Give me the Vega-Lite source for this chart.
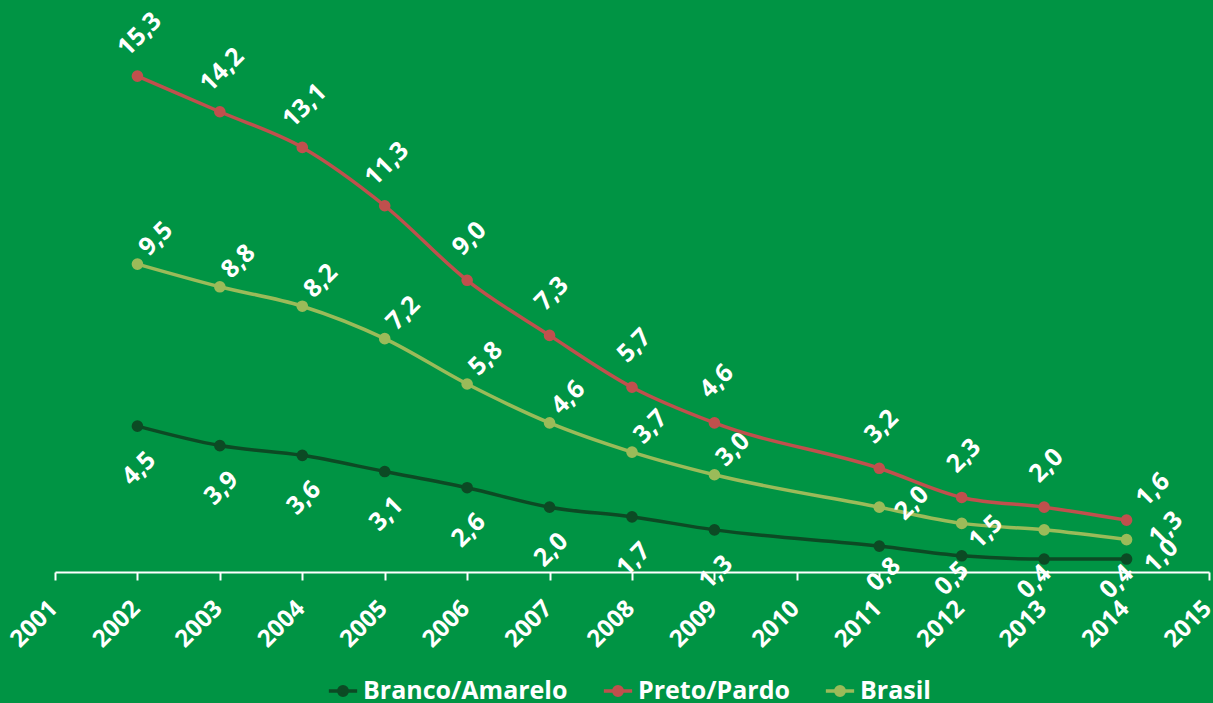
{
  "$schema": "https://vega.github.io/schema/vega-lite/v6.json",
  "width": 1154,
  "height": 551,
  "autosize": {"type": "none"},
  "padding": {"left": 55, "top": 21, "right": 4, "bottom": 131},
  "background": "#009444",
  "config": {
    "view": {"stroke": null},
    "font": "Open Sans",
    "text": {"angle": -45, "align": "center", "baseline": "middle", "fontSize": 25, "fontWeight": "bold", "font": "Open Sans", "color": "white"},
    "locale": {"number": {"decimal": ",", "thousands": ".", "grouping": [3], "currency": ["R$", ""]}}
  },
  "data": {
    "values": [
      {"ano": 2002, "grupo": "Branco/Amarelo", "valor": 4.5},
      {"ano": 2003, "grupo": "Branco/Amarelo", "valor": 3.9},
      {"ano": 2004, "grupo": "Branco/Amarelo", "valor": 3.6},
      {"ano": 2005, "grupo": "Branco/Amarelo", "valor": 3.1},
      {"ano": 2006, "grupo": "Branco/Amarelo", "valor": 2.6},
      {"ano": 2007, "grupo": "Branco/Amarelo", "valor": 2.0},
      {"ano": 2008, "grupo": "Branco/Amarelo", "valor": 1.7},
      {"ano": 2009, "grupo": "Branco/Amarelo", "valor": 1.3},
      {"ano": 2011, "grupo": "Branco/Amarelo", "valor": 0.8},
      {"ano": 2012, "grupo": "Branco/Amarelo", "valor": 0.5},
      {"ano": 2013, "grupo": "Branco/Amarelo", "valor": 0.4},
      {"ano": 2014, "grupo": "Branco/Amarelo", "valor": 0.4},
      {"ano": 2002, "grupo": "Preto/Pardo", "valor": 15.3},
      {"ano": 2003, "grupo": "Preto/Pardo", "valor": 14.2},
      {"ano": 2004, "grupo": "Preto/Pardo", "valor": 13.1},
      {"ano": 2005, "grupo": "Preto/Pardo", "valor": 11.3},
      {"ano": 2006, "grupo": "Preto/Pardo", "valor": 9.0},
      {"ano": 2007, "grupo": "Preto/Pardo", "valor": 7.3},
      {"ano": 2008, "grupo": "Preto/Pardo", "valor": 5.7},
      {"ano": 2009, "grupo": "Preto/Pardo", "valor": 4.6},
      {"ano": 2011, "grupo": "Preto/Pardo", "valor": 3.2},
      {"ano": 2012, "grupo": "Preto/Pardo", "valor": 2.3},
      {"ano": 2013, "grupo": "Preto/Pardo", "valor": 2.0},
      {"ano": 2014, "grupo": "Preto/Pardo", "valor": 1.6},
      {"ano": 2002, "grupo": "Brasil", "valor": 9.5},
      {"ano": 2003, "grupo": "Brasil", "valor": 8.8},
      {"ano": 2004, "grupo": "Brasil", "valor": 8.2},
      {"ano": 2005, "grupo": "Brasil", "valor": 7.2},
      {"ano": 2006, "grupo": "Brasil", "valor": 5.8},
      {"ano": 2007, "grupo": "Brasil", "valor": 4.6},
      {"ano": 2008, "grupo": "Brasil", "valor": 3.7},
      {"ano": 2009, "grupo": "Brasil", "valor": 3.0},
      {"ano": 2011, "grupo": "Brasil", "valor": 2.0},
      {"ano": 2012, "grupo": "Brasil", "valor": 1.5},
      {"ano": 2013, "grupo": "Brasil", "valor": 1.3},
      {"ano": 2014, "grupo": "Brasil", "valor": 1.0}
    ]
  },
  "encoding": {
    "x": {
      "field": "ano", "type": "quantitative",
      "scale": {"domain": [2001, 2015], "nice": false, "zero": false},
      "axis": {
        "title": null, "format": "d", "values": [2001,2002,2003,2004,2005,2006,2007,2008,2009,2010,2011,2012,2013,2014,2015],
        "grid": false, "domainColor": "white", "domainWidth": 2, "tickColor": "white", "tickWidth": 2, "tickSize": 8,
        "labelAngle": -45, "labelColor": "white", "labelFont": "Open Sans", "labelFontSize": 24, "labelFontWeight": "bold",
        "labelPadding": 16, "labelOffset": -10, "labelOverlap": false, "labelFlush": false, "labelBound": false
      }
    },
    "y": {
      "field": "valor", "type": "quantitative",
      "scale": {"domain": [0, 17], "nice": false},
      "axis": null
    },
    "color": {
      "field": "grupo", "type": "nominal",
      "scale": {"domain": ["Branco/Amarelo", "Preto/Pardo", "Brasil"], "range": ["#0C4A24", "#C0504D", "#9BBB59"]},
      "legend": {
        "orient": "none", "legendX": 272, "legendY": 654, "direction": "horizontal", "title": null,
        "labelColor": "white", "labelFont": "Open Sans", "labelFontSize": 25, "labelFontWeight": "bold", "labelLimit": 0,
        "symbolSize": 800, "symbolStrokeWidth": 3, "symbolOpacity": 1, "columnPadding": 28, "labelOffset": 4,
        "encode": {
          "symbols": {
            "update": {
              "shape": {"value": "M-1,0H1M0.3,0A0.3,0.3,0,1,1,-0.3,0A0.3,0.3,0,1,1,0.3,0"},
              "stroke": {"scale": "color", "field": "value"},
              "fill": {"scale": "color", "field": "value"},
              "strokeWidth": {"value": 3.5},
              "opacity": {"value": 1}
            }
          }
        }
      }
    }
  },
  "layer": [
    {"mark": {"type": "line", "interpolate": "monotone", "strokeWidth": 3.5}},
    {"mark": {"type": "point", "filled": true, "size": 135, "opacity": 1}},
    {
      "transform": [{"filter": "datum.grupo === 'Preto/Pardo' && datum.ano < 2014"}],
      "mark": {"type": "text", "dx": 31, "dy": -28},
      "encoding": {"text": {"field": "valor", "type": "quantitative", "format": ".1f"}, "color": {"value": "white"}}
    },
    {
      "transform": [{"filter": "datum.grupo === 'Preto/Pardo' && datum.ano === 2014"}],
      "mark": {"type": "text", "dx": 40, "dy": -3},
      "encoding": {"text": {"field": "valor", "type": "quantitative", "format": ".1f"}, "color": {"value": "white"}}
    },
    {
      "transform": [{"filter": "datum.grupo === 'Brasil' && datum.ano < 2011"}],
      "mark": {"type": "text", "dx": 31, "dy": -5},
      "encoding": {"text": {"field": "valor", "type": "quantitative", "format": ".1f"}, "color": {"value": "white"}}
    },
    {
      "transform": [{"filter": "datum.grupo === 'Brasil' && datum.ano === 2011"}],
      "mark": {"type": "text", "dx": 26, "dy": 20},
      "encoding": {"text": {"field": "valor", "type": "quantitative", "format": ".1f"}, "color": {"value": "white"}}
    },
    {
      "transform": [{"filter": "datum.grupo === 'Brasil' && datum.ano === 2012"}],
      "mark": {"type": "text", "dx": 11, "dy": 23},
      "encoding": {"text": {"field": "valor", "type": "quantitative", "format": ".1f"}, "color": {"value": "white"}}
    },
    {
      "transform": [{"filter": "datum.grupo === 'Brasil' && datum.ano === 2013"}],
      "mark": {"type": "text", "dx": 87, "dy": 85},
      "encoding": {"text": {"field": "valor", "type": "quantitative", "format": ".1f"}, "color": {"value": "white"}}
    },
    {
      "transform": [{"filter": "datum.grupo === 'Brasil' && datum.ano === 2014"}],
      "mark": {"type": "text", "dx": 13, "dy": 36},
      "encoding": {"text": {"field": "valor", "type": "quantitative", "format": ".1f"}, "color": {"value": "white"}}
    },
    {
      "transform": [{"filter": "datum.grupo === 'Branco/Amarelo' && datum.ano < 2011"}],
      "mark": {"type": "text", "dx": -29, "dy": 31},
      "encoding": {"text": {"field": "valor", "type": "quantitative", "format": ".1f"}, "color": {"value": "white"}}
    },
    {
      "transform": [{"filter": "datum.grupo === 'Branco/Amarelo' && datum.ano === 2011"}],
      "mark": {"type": "text", "dx": -17, "dy": 23},
      "encoding": {"text": {"field": "valor", "type": "quantitative", "format": ".1f"}, "color": {"value": "white"}}
    },
    {
      "transform": [{"filter": "datum.grupo === 'Branco/Amarelo' && datum.ano > 2011"}],
      "mark": {"type": "text", "dx": -23, "dy": 9},
      "encoding": {"text": {"field": "valor", "type": "quantitative", "format": ".1f"}, "color": {"value": "white"}}
    }
  ]
}
